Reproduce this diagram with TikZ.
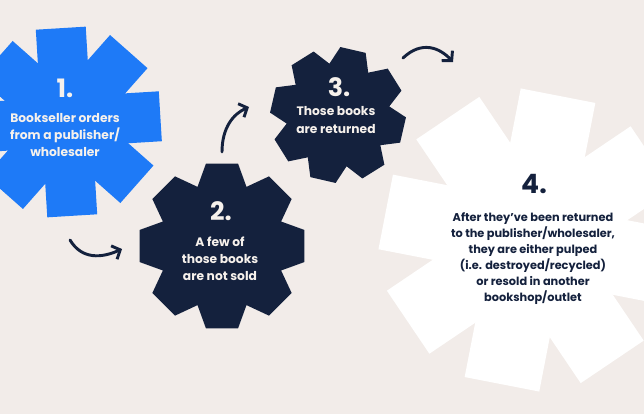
\documentclass[tikz,border=0pt]{standalone}
\usepackage{fontspec}
\setmainfont{Poppins}
\usetikzlibrary{arrows.meta}
\definecolor{bgbeige}{RGB}{242,236,233}
\definecolor{stepblue}{RGB}{30,122,247}
\definecolor{stepnavy}{RGB}{20,33,61}
\definecolor{lighttext}{RGB}{246,241,236}

\begin{document}
\begin{tikzpicture}[x=0.75pt,y=-0.75pt,
    num/.style={inner sep=0pt,font=\fontsize{19}{19}\selectfont\bfseries},
    txt/.style={inner sep=0pt,align=center,font=\fontsize{9.2}{12.8}\selectfont\bfseries},
    arr/.style={draw=stepnavy,line width=2.2pt,line cap=round,-{Straight Barb[length=5pt,width=11pt]}}]
    \clip (0,0) rectangle (644,414);
    \fill[bgbeige] (0,0) rectangle (644,414);

    % Step 1: blue asterisk
    \begin{scope}[shift={(66.5,122)},rotate=3.5]
        \foreach \a in {0,45,90,135}
            \fill[stepblue,rotate=\a] (-94,-25) rectangle (94,25);
    \end{scope}
    \node[num,text=lighttext] (n1) at (65,88.5) {1.};
    \node[txt,text=lighttext] (t1) at (65,135) {Bookseller orders\\from a publisher/\\wholesaler};

    % Step 2: navy gear
    \begin{scope}[shift={(222,246)}]
        \fill[stepnavy] (79:84) \foreach \k in {0,...,7}{ -- ({79+45*\k}:84) -- ({101+45*\k}:84) -- ({112.5+45*\k}:64)} -- cycle;
    \end{scope}
    \node[num,text=lighttext] (n2) at (221,211) {2.};
    \node[txt,text=lighttext] (t2) at (220,258.5) {A few of\\those books\\are not sold};

    % Step 3: navy gear
    \begin{scope}[shift={(338,115)},rotate=-13]
        \fill[stepnavy] (79:68) \foreach \k in {0,...,7}{ -- ({79+45*\k}:68) -- ({101+45*\k}:68) -- ({112.5+45*\k}:52)} -- cycle;
    \end{scope}
    \node[num,text=lighttext] (n3) at (339,87.5) {3.};
    \node[txt,text=lighttext] (t3) at (336,120) {Those books\\are returned};

    % Step 4: white asterisk
    \begin{scope}[shift={(530,240)},rotate=-11]
        \foreach \a in {0,45,90,135}
            \fill[white,rotate=\a] (-147,-38) rectangle (147,38);
    \end{scope}
    \node[num,text=stepnavy,font=\fontsize{20}{20}\selectfont\bfseries] (n4) at (534,184.5) {4.};
    \node[txt,text=stepnavy,font=\fontsize{8.5}{12.1}\selectfont\bfseries] (t4) at (533,258.5) {After they’ve been returned\\to the publisher/wholesaler,\\they are either pulped\\(i.e. destroyed/recycled)\\or resold in another\\bookshop/outlet};

    % Arrows
    \coordinate (a1s) at (70,240);
    \coordinate (a1e) at (122,249);
    \draw[arr] (a1s) .. controls (82,260) and (102,258) .. (a1e);
    \coordinate (a2s) at (222,152);
    \coordinate (a2e) at (249,107);
    \draw[arr] (a2s) .. controls (222,128) and (233,114) .. (a2e);
    \coordinate (a3s) at (403,58);
    \coordinate (a3e) at (453,62);
    \draw[arr] (a3s) .. controls (422,40) and (440,48) .. (a3e);
\end{tikzpicture}
\end{document}
